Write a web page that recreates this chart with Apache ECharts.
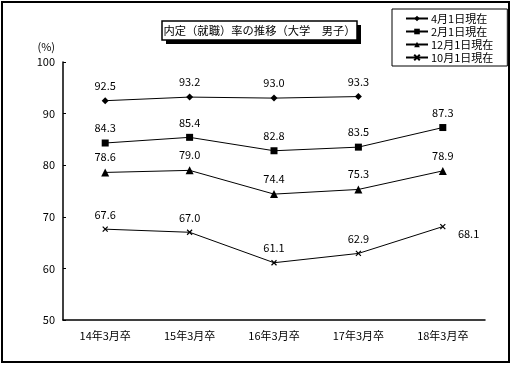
<!DOCTYPE html>
<html><head><meta charset="utf-8">
<script src="https://cdn.jsdelivr.net/npm/echarts@6/dist/echarts.min.js"></script>
<style>html,body{margin:0;padding:0;background:#fff}#c{width:513px;height:366px}</style>
</head><body><div id="c"></div>
<script>
const categories = ['14年3月卒','15年3月卒','16年3月卒','17年3月卒','18年3月卒'];
const seriesNames = ['4月1日現在','2月1日現在','12月1日現在','10月1日現在'];
const apr1 = [92.5, 93.2, 93.0, 93.3, null];
const feb1 = [84.3, 85.4, 82.8, 83.5, 87.3];
const dec1 = [78.6, 79.0, 74.4, 75.3, 78.9];
const oct1 = [67.6, 67.0, 61.1, 62.9, 68.1];
const yTicks = [50, 60, 70, 80, 90, 100];
const titleText = '内定（就職）率の推移（大学　男子）';

const font = '"Noto Sans CJK JP", sans-serif';
const chart = echarts.init(document.getElementById('c'));
function mk(name, data, symbol, size, labelOpts) {
  return {
    name, type: 'line', data, symbol, symbolSize: size,
    lineStyle: {color: '#000', width: 1},
    itemStyle: {color: '#000', borderColor: '#000', borderWidth: symbol.startsWith('path') ? 1.2 : 0},
    label: Object.assign({show: true, position: 'top', distance: 6, color: '#000', fontSize: 11, fontFamily: font,
      formatter: p => p.value.toFixed(1)}, labelOpts || {}),
    emphasis: {disabled: true}, animation: false
  };
}
const crossPath = 'path://M0,0L10,10M10,0L0,10';
const s4 = mk(seriesNames[3], oct1, crossPath, 5);
s4.data = oct1.map((v, i) => i === 4 ? {value: v, label: {position: 'right', distance: 12, offset: [0, 7]}} : v);
chart.setOption({
  backgroundColor: '#fff',
  textStyle: {fontFamily: font},
  grid: {left: 63, right: 28, top: 62, bottom: 46},
  legend: {
    orient: 'vertical', left: 392, top: 9, width: 115,
    padding: [3, 14, 2, 13], itemGap: 0, itemWidth: 22, itemHeight: 7,
    borderColor: '#000', borderWidth: 1,
    textStyle: {color: '#000', fontSize: 11, fontFamily: font, padding: [0, 0, 0, -2], lineHeight: 13},
    data: seriesNames, selectedMode: false
  },
  xAxis: {
    type: 'category', data: categories, boundaryGap: true,
    axisLine: {lineStyle: {color: '#000', width: 1.5}},
    axisTick: {inside: true, length: 4, lineStyle: {color: '#000'}},
    axisLabel: {color: '#000', fontSize: 11, fontFamily: font, margin: 10}
  },
  yAxis: {
    type: 'value', min: yTicks[0], max: yTicks[yTicks.length - 1], interval: 10,
    name: '(%)', nameLocation: 'end', nameGap: 10,
    nameTextStyle: {color: '#000', fontSize: 11, fontFamily: font, align: 'right', padding: [0, 8, 0, 0]},
    axisLine: {show: true, lineStyle: {color: '#000', width: 1.5}},
    axisTick: {show: true, inside: true, length: 3, lineStyle: {color: '#000'}},
    splitLine: {show: false},
    axisLabel: {color: '#000', fontSize: 11, fontFamily: font, margin: 8}
  },
  series: [
    mk(seriesNames[0], apr1, 'diamond', 7),
    mk(seriesNames[1], feb1, 'rect', 7),
    mk(seriesNames[2], dec1, 'triangle', 8),
    s4
  ],
  graphic: [
    {type: 'rect', shape: {x: 2, y: 2, width: 507, height: 360}, style: {fill: null, stroke: '#000', lineWidth: 2}, silent: true},
    {type: 'rect', shape: {x: 166, y: 25, width: 195, height: 19}, style: {fill: '#000'}, silent: true},
    {type: 'rect', shape: {x: 162, y: 21, width: 195, height: 19}, style: {fill: '#fff', stroke: '#000', lineWidth: 1.5}, silent: true},
    {type: 'text', x: 259.5, y: 31, style: {text: titleText, fill: '#000', fontSize: 11.3, fontFamily: font, align: 'center', verticalAlign: 'middle'}, silent: true}
  ]
});
</script></body></html>
